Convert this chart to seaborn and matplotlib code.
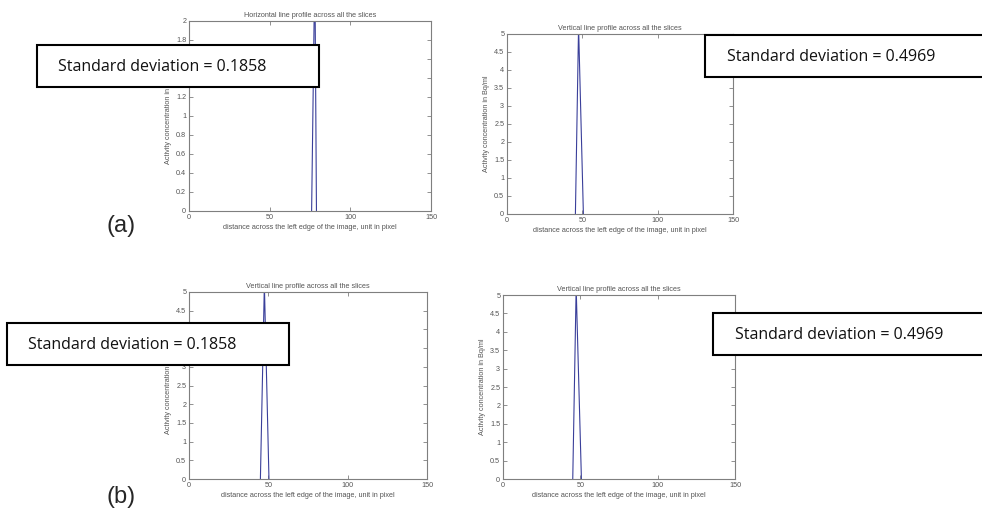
import numpy as np
import matplotlib
matplotlib.use("Agg")
import matplotlib.pyplot as plt
from matplotlib.patches import Rectangle
import seaborn as sns

# Line profiles around the peak (pixel position, activity concentration)
h_profile_a_x = [76, 78, 79]
h_profile_a_y = [0, 2.6, 0]

v_profile_a_x = [45.4, 47.5, 50.7]
v_profile_a_y = [0, 5.2, 0]

v_profile_b1_x = [45.0, 47.5, 50.4]
v_profile_b1_y = [0, 5.2, 0]

v_profile_b2_x = [45.1, 47.3, 50.7]
v_profile_b2_y = [0, 5.2, 0]

titles = [
    "Horizontal line profile across all the slices",
    "Vertical line profile across all the slices",
    "Vertical line profile across all the slices",
    "Vertical line profile across all the slices",
]
std_labels = [
    "Standard deviation = 0.1858",
    "Standard deviation = 0.4969",
    "Standard deviation = 0.1858",
    "Standard deviation = 0.4969",
]
xlabel = "distance across the left edge of the image, unit in pixel"
ylabel = "Activity concentration in Bq/ml"
x_ticks = [0, 50, 100, 150]

sns.set_theme(style="white")
plt.rcParams["font.family"] = ["Liberation Sans", "DejaVu Sans"]

W, H = 982, 513
fig = plt.figure(figsize=(W / 100, H / 100), dpi=100)
fig.patch.set_facecolor("white")


def px_axes(left, top, right, bottom):
    return fig.add_axes([left / W, 1 - bottom / H, (right - left) / W, (bottom - top) / H])


axes_px = [
    (189, 21, 431, 211),
    (507, 34, 733, 214),
    (189, 292, 427, 479),
    (503, 295, 735, 479),
]
profiles = [
    (h_profile_a_x, h_profile_a_y, 2.0, 0.2),
    (v_profile_a_x, v_profile_a_y, 5.0, 0.5),
    (v_profile_b1_x, v_profile_b1_y, 5.0, 0.5),
    (v_profile_b2_x, v_profile_b2_y, 5.0, 0.5),
]

line_color = "#3a3f9a"
axis_gray = "#7f7f7f"
text_gray = "#555555"
small = 5.2

for (l, t, r, b), (px, py, ymax, ystep), title in zip(axes_px, profiles, titles):
    ax = px_axes(l, t, r, b)
    sns.lineplot(x=px, y=py, ax=ax, color=line_color, linewidth=0.8)
    ax.set_xlim(0, 150)
    ax.set_ylim(0, ymax)
    ax.set_xticks(x_ticks)
    yt = np.round(np.arange(0, ymax + ystep / 2, ystep), 2)
    ax.set_yticks(yt)
    ax.set_yticklabels([f"{v:g}" for v in yt])
    ax.tick_params(direction="in", length=3, width=0.6, colors=axis_gray,
                   labelcolor=text_gray, labelsize=small, top=True, right=True,
                   bottom=True, left=True, pad=2)
    for sp in ax.spines.values():
        sp.set_color(axis_gray)
        sp.set_linewidth(0.8)
        sp.set_visible(True)
    ax.set_title(title, fontsize=small, color=text_gray, pad=3)
    ax.set_xlabel(xlabel, fontsize=small, color=text_gray, labelpad=2)
    ax.set_ylabel(ylabel, fontsize=small, color=text_gray, labelpad=3)

# Annotation boxes with the standard deviations
boxes_px = [
    (37, 45, 319, 87, 58),
    (705, 35, 990, 77, 727),
    (7, 323, 289, 365, 28),
    (713, 313, 990, 355, 735),
]
for (l, t, r, b, tx), label in zip(boxes_px, std_labels):
    fig.patches.append(Rectangle((l / W, 1 - b / H), (r - l) / W, (b - t) / H,
                                 transform=fig.transFigure, facecolor="white",
                                 edgecolor="black", linewidth=1.5, zorder=10))
    fig.text(tx / W, 1 - ((t + b) / 2 + 1) / H, label, fontsize=11.5,
             family=["Open Sans", "DejaVu Sans"], color="#111111",
             ha="left", va="center", zorder=11)

fig.text(121 / W, 1 - 226 / H, "(a)", fontsize=17, family=["Liberation Sans"],
         ha="center", va="center")
fig.text(121 / W, 1 - 497 / H, "(b)", fontsize=17, family=["Liberation Sans"],
         ha="center", va="center")

fig.savefig("out.png", dpi=100, facecolor="white")
